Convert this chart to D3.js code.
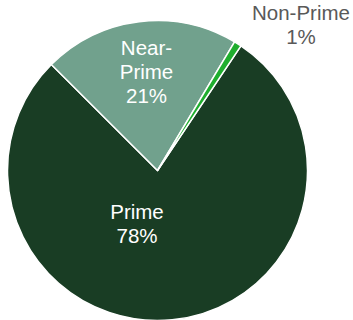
<!DOCTYPE html>
<html><head><meta charset="utf-8">
<script src="https://cdn.jsdelivr.net/npm/d3@7"></script>
<style>html,body{margin:0;padding:0;background:#fff;}svg{display:block;}</style>
</head><body>
<svg id="chart" width="353" height="320"></svg>
<script>
const categories = ["Prime", "Near-Prime", "Non-Prime"];
const values = [78.1, 21.1, 0.8];
const labels = ["78%", "21%", "1%"];
const colors = ["#193d24", "#71a18d", "#1fae2e"];

const svg = d3.select("#chart");
const cx = 157.5, cy = 170.5, r = 150;
const g = svg.append("g").attr("transform", `translate(${cx},${cy})`);
const start = 33.8 * Math.PI / 180;
const pie = d3.pie().sort(null).value(d => d).startAngle(start).endAngle(start + 2 * Math.PI);
const arcs = pie(values);
const arc = d3.arc().innerRadius(0).outerRadius(r);
g.selectAll("path").data(arcs).join("path")
  .attr("d", arc)
  .attr("fill", (d, i) => colors[i])
  .attr("stroke", "#fff").attr("stroke-width", 1.5).attr("stroke-linejoin", "round");

const font = "Liberation Sans, Arial, sans-serif";
function label(lines, x, y, color) {
  const t = svg.append("text").attr("font-family", font).attr("font-size", 20.5)
    .attr("fill", color).attr("text-anchor", "middle");
  lines.forEach((l, i) => t.append("tspan").attr("x", x).attr("y", y + i * 24).text(l));
}
label(["Near-", "Prime", labels[1]], 146.5, 55, "#ffffff");
label([categories[0], labels[0]], 137, 219, "#ffffff");
label([categories[2], labels[2]], 301, 20, "#595959");
</script>
</body></html>
